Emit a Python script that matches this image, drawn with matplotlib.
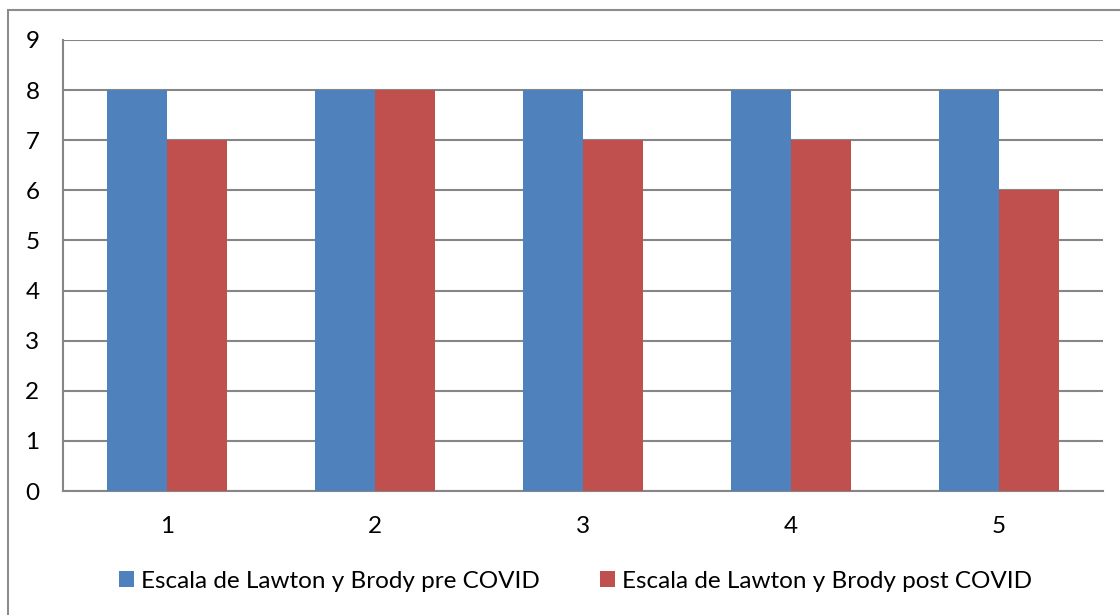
import numpy as np
import matplotlib.pyplot as plt
from matplotlib.patches import Rectangle

# Lawton & Brody scores per patient, before and after COVID
patients = ['1', '2', '3', '4', '5']
pre_covid = [8, 8, 8, 8, 8]
post_covid = [7, 8, 7, 7, 6]
series_names = ['Escala de Lawton y Brody pre COVID',
                'Escala de Lawton y Brody post COVID']

plt.rcParams['font.family'] = ['Lato', 'DejaVu Sans']

fig = plt.figure(figsize=(11.2, 6.15), dpi=100)
ax = fig.add_axes([63 / 1120, 1 - 491 / 615, 1040 / 1120, 451 / 615])

# outer chart frame
fig.patches.append(Rectangle((8 / 1120, -0.1), 1.2, 1 - 10 / 615 + 0.1,
                             transform=fig.transFigure, fill=False,
                             edgecolor='#8c8c8c', linewidth=1.5))

x = np.arange(len(patients))
w = 0.288
ax.bar(x - w / 2, pre_covid, w, color='#4f81bd', label=series_names[0], zorder=3)
ax.bar(x + w / 2, post_covid, w, color='#c0504d', label=series_names[1], zorder=3)

ax.set_xlim(-0.5, len(patients) - 0.5)
ax.set_ylim(0, 9)
ax.set_yticks(range(0, 10))
ax.set_xticks(x)
ax.set_xticklabels(patients)
ax.yaxis.grid(True, color='#868686', linewidth=1.5, zorder=0)
ax.tick_params(length=0, labelsize=17.5, colors='black')
ax.tick_params(axis='y', pad=17)
ax.tick_params(axis='x', pad=18)
for side in ['right', 'top']:
    ax.spines[side].set_visible(False)
for side in ['left', 'bottom']:
    ax.spines[side].set_color('#868686')
    ax.spines[side].set_linewidth(1.5)

fig.legend(loc='center', bbox_to_anchor=(0.514, 1 - 581 / 615), ncol=2,
           frameon=False, fontsize=17.5, handlelength=0.6, handleheight=0.6,
           handletextpad=0.3, columnspacing=2.5)

fig.savefig('out.png', dpi=100)
